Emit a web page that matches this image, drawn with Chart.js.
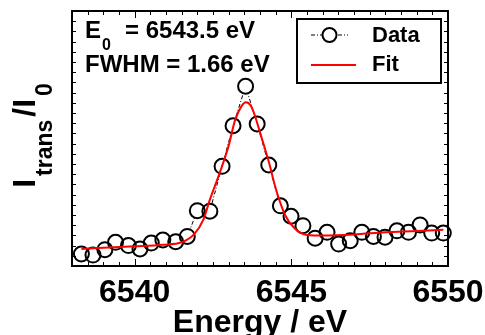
<!DOCTYPE html>
<html>
<head>
<meta charset="utf-8">
<script src="https://cdn.jsdelivr.net/npm/chart.js@4"></script>
<style>
  html, body { margin: 0; padding: 0; background: #fff; }
</style>
</head>
<body>
<canvas id="xanesChart" width="485" height="335"></canvas>
<script>
// measured points (energy in eV, transmitted intensity in arb. units)
const energy = [6538.30, 6538.67, 6539.05, 6539.39, 6539.80, 6540.17, 6540.53, 6540.90,
  6541.31, 6541.68, 6542.00, 6542.40, 6542.79, 6543.14, 6543.54, 6543.91, 6544.28,
  6544.65, 6544.99, 6545.37, 6545.76, 6546.14, 6546.51, 6546.88, 6547.25, 6547.62,
  6547.99, 6548.37, 6548.74, 6549.11, 6549.48, 6549.85];
const intensity = [4.7, 4.3, 6.4, 9.3, 8.0, 6.7, 9.0, 10.2, 9.5, 11.6, 21.7, 21.5,
  39.1, 55.0, 70.5, 55.7, 39.6, 23.6, 19.5, 15.8, 10.9, 13.2, 8.6, 9.9, 13.2, 11.6,
  11.3, 13.8, 13.2, 16.1, 12.9, 12.9];

// fitted curve
const fitEnergy = [6538.3, 6539.0, 6540.0, 6540.9, 6541.5, 6541.9, 6542.2, 6542.4,
  6542.7, 6543.0, 6543.2, 6543.4, 6543.55, 6543.7, 6543.8, 6544.0, 6544.3, 6544.5,
  6544.8, 6545.1, 6545.5, 6546.0, 6547.0, 6548.0, 6549.0, 6549.85];
const fitIntensity = [6.7, 7.2, 7.7, 8.3, 9.3, 12.5, 18.4, 26.0, 36.0, 47.2, 57.0,
  62.5, 64.2, 63.0, 60.3, 52.4, 40.0, 30.5, 20.0, 14.8, 12.2, 12.0, 12.4, 13.2,
  13.7, 14.2];

const xTicks = [6540, 6545, 6550];
const xMinorStep = 0.5;
const yMinorStep = 4;
const xRange = [6538, 6550];
const yRange = [0, 100];

const e0Label = '6543.5 eV';
const fwhmLabel = '1.66 eV';

const FONT = "'Liberation Sans', Arial, sans-serif";
Chart.defaults.font.family = FONT;

function toPoints(xs, ys) {
  return xs.map(function(x, i) { return { x: x, y: ys[i] }; });
}

// frame, inward ticks, annotation, legend box and y title
const decorations = {
  id: 'decorations',
  afterDraw: function(chart) {
    const ctx = chart.ctx;
    const area = chart.chartArea;
    const xs = chart.scales.x;
    const ys = chart.scales.y;
    ctx.save();
    ctx.strokeStyle = '#000';
    ctx.lineWidth = 1;

    // x ticks (bottom and top)
    for (let v = xRange[0]; v <= xRange[1] + 1e-9; v += xMinorStep) {
      const px = Math.round(xs.getPixelForValue(v)) + 0.5;
      const len = xTicks.indexOf(v) >= 0 ? 7 : 4;
      ctx.beginPath();
      ctx.moveTo(px, area.bottom); ctx.lineTo(px, area.bottom - len);
      ctx.moveTo(px, area.top); ctx.lineTo(px, area.top + len);
      ctx.stroke();
    }
    // y ticks (left and right)
    for (let v = yRange[0]; v <= yRange[1] + 1e-9; v += yMinorStep) {
      const py = Math.round(ys.getPixelForValue(v)) + 0.5;
      ctx.beginPath();
      ctx.moveTo(area.left, py); ctx.lineTo(area.left + 4, py);
      ctx.moveTo(area.right, py); ctx.lineTo(area.right - 4, py);
      ctx.stroke();
    }

    // frame
    ctx.lineWidth = 2;
    ctx.strokeRect(area.left, area.top, area.right - area.left, area.bottom - area.top);

    // annotation
    ctx.fillStyle = '#000';
    ctx.textBaseline = 'alphabetic';
    ctx.textAlign = 'left';
    const ax = area.left + 13;
    ctx.font = 'bold 24px ' + FONT;
    ctx.fillText('E', ax, area.top + 27);
    const wE = ctx.measureText('E').width;
    ctx.font = 'bold 16px ' + FONT;
    ctx.fillText('0', ax + wE + 1, area.top + 39);
    ctx.font = 'bold 24px ' + FONT;
    ctx.fillText('= ' + e0Label, ax + 40, area.top + 27);
    ctx.fillText('FWHM = ' + fwhmLabel, ax, area.top + 61);

    // legend box
    const bx = area.right - 151, by = area.top + 8, bw = 144, bh = 64;
    ctx.lineWidth = 2;
    ctx.strokeRect(bx, by, bw, bh);
    const r1 = by + 16, r2 = by + 46;
    ctx.lineWidth = 1;
    ctx.setLineDash([4, 2, 1, 2]);
    ctx.beginPath();
    ctx.moveTo(bx + 14, r1); ctx.lineTo(bx + 51, r1);
    ctx.stroke();
    ctx.setLineDash([]);
    ctx.fillStyle = '#fff';
    ctx.beginPath();
    ctx.arc(bx + 32.5, r1, 7, 0, Math.PI * 2);
    ctx.fill();
    ctx.lineWidth = 2;
    ctx.stroke();
    ctx.strokeStyle = '#ff0000';
    ctx.beginPath();
    ctx.moveTo(bx + 14, r2); ctx.lineTo(bx + 59, r2);
    ctx.stroke();
    ctx.fillStyle = '#000';
    ctx.font = 'bold 22px ' + FONT;
    ctx.fillText('Data', bx + 75, r1 + 7);
    ctx.fillText('Fit', bx + 75, r2 + 6);

    // y title: I_trans / I_0
    ctx.translate(35, (area.top + area.bottom) / 2 - 3);
    ctx.rotate(-Math.PI / 2);
    const big = 'bold 32px ' + FONT, small = 'bold 23px ' + FONT;
    const parts = [['I', big, 0], ['trans', small, 17], ['/I', big, 0], ['0', small, 17]];
    const gap = 3;
    let total = -gap;
    parts.forEach(function(p) { ctx.font = p[1]; total += ctx.measureText(p[0]).width + gap; });
    let cx = -total / 2;
    parts.forEach(function(p) {
      ctx.font = p[1];
      ctx.fillText(p[0], cx, p[2]);
      cx += ctx.measureText(p[0]).width + gap;
    });
    ctx.restore();
  }
};

const ctx = document.getElementById('xanesChart').getContext('2d');
const xanesChart = new Chart(ctx, {
  type: 'scatter',
  data: {
    datasets: [
      {
        label: 'Fit',
        data: toPoints(fitEnergy, fitIntensity),
        showLine: true,
        borderColor: '#ff0000',
        borderWidth: 2,
        pointRadius: 0,
        cubicInterpolationMode: 'monotone',
        order: 0
      },
      {
        label: 'Data',
        data: toPoints(energy, intensity),
        showLine: false,
        borderColor: '#000',
        backgroundColor: 'rgba(0,0,0,0)',
        borderWidth: 2,
        pointRadius: 7.5,
        clip: false,
        order: 1
      },
      {
        // white discs so the connecting line stays hidden inside the markers
        label: 'mask',
        data: toPoints(energy, intensity),
        showLine: false,
        backgroundColor: '#fff',
        borderWidth: 0,
        pointRadius: 7.5,
        order: 2
      },
      {
        label: 'Data line',
        data: toPoints(energy, intensity),
        showLine: true,
        borderColor: '#000',
        borderWidth: 1,
        borderDash: [4, 2, 1, 2],
        pointRadius: 0,
        order: 3
      }
    ]
  },
  options: {
    responsive: false,
    animation: false,
    layout: { padding: { left: 72, top: 11, right: 0, bottom: 0 } },
    plugins: {
      legend: { display: false },
      tooltip: { enabled: false }
    },
    scales: {
      x: {
        type: 'linear',
        min: xRange[0],
        max: xRange[1],
        afterBuildTicks: function(axis) {
          axis.ticks = xTicks.map(function(v) { return { value: v }; });
        },
        // last label may hang over the frame, as in the original figure
        afterFit: function(axis) { axis.paddingRight = 37; },
        grid: { display: false, drawTicks: false },
        border: { display: false },
        ticks: {
          color: '#000',
          padding: 11,
          callback: function(v) { return String(v); },
          font: { size: 32, weight: 'bold', lineHeight: 1 }
        },
        title: {
          display: true,
          text: 'Energy / eV',
          color: '#000',
          padding: { top: -13, bottom: -4 },
          font: { size: 32, weight: 'bold', lineHeight: 1 }
        }
      },
      y: {
        display: false,
        min: yRange[0],
        max: yRange[1]
      }
    }
  },
  plugins: [decorations]
});
</script>
</body>
</html>
